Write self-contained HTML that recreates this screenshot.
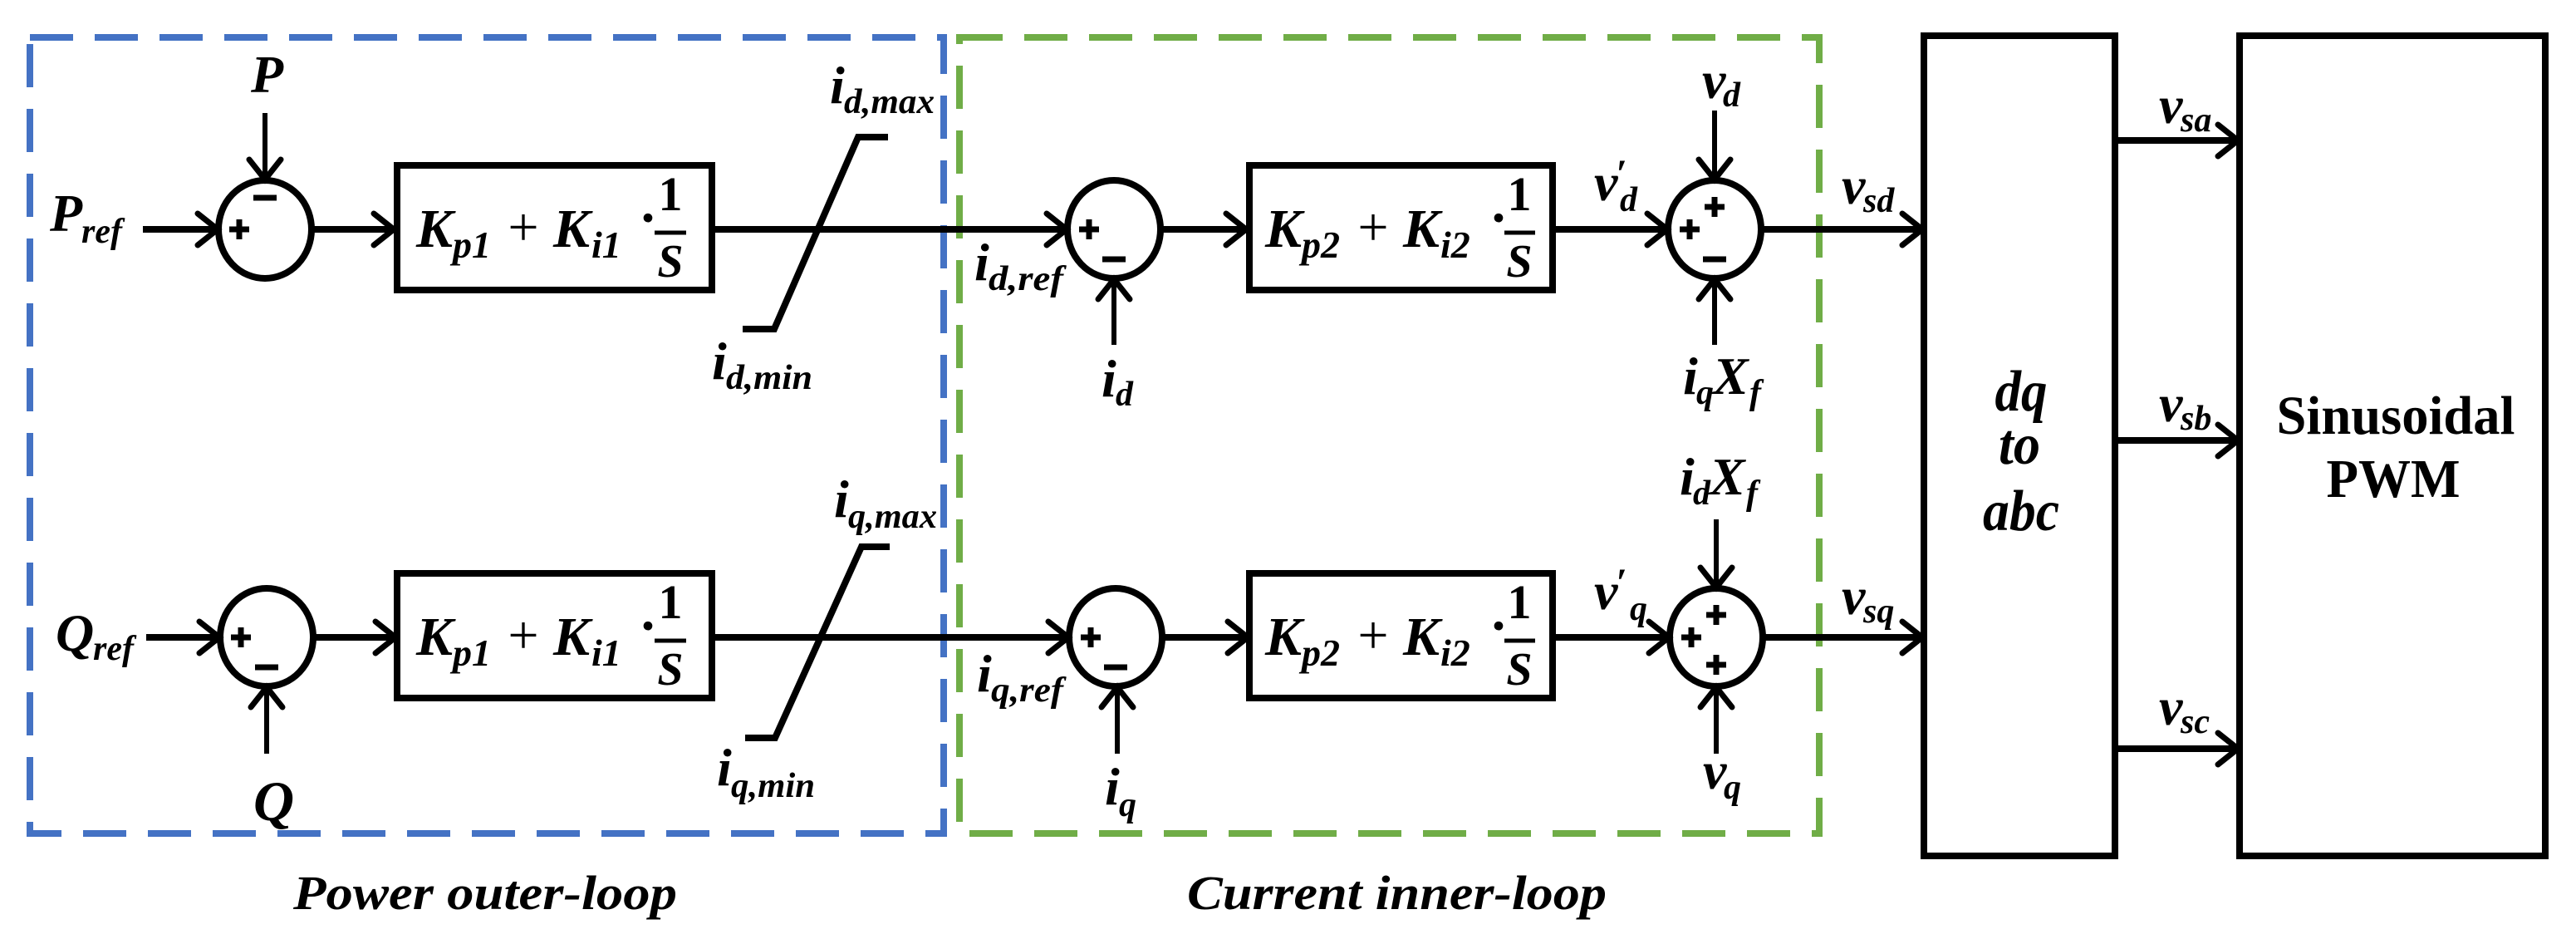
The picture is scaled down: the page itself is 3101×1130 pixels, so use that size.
<!DOCTYPE html>
<html><head><meta charset="utf-8"><style>html,body{margin:0;padding:0;background:#fff}svg{display:block}
text{font-family:"Liberation Serif","DejaVu Serif",serif !important;font-weight:bold;font-style:italic}
text.n{font-style:normal}
text.r{font-style:normal;font-weight:normal}
</style></head>
<body>
<svg xmlns="http://www.w3.org/2000/svg" width="3101" height="1130" viewBox="0 0 3101 1130" font-family="Liberation Serif, DejaVu Serif, serif" style="font-family:'Liberation Serif','DejaVu Serif',serif">
<defs>
<g id="ar"><polyline points="-24,-19 0,0 -24,19" fill="none" stroke="#000" stroke-width="7" stroke-linecap="round" stroke-linejoin="miter"/></g>
</defs>
<rect x="36" y="45" width="1100" height="958" fill="none" stroke="#4472C4" stroke-width="8" stroke-dasharray="52 26"/>
<rect x="1155" y="45" width="1035" height="958" fill="none" stroke="#70AD47" stroke-width="8" stroke-dasharray="52 26"/>

<g stroke="#000" stroke-width="8" fill="none">
<ellipse cx="319" cy="276" rx="56" ry="59"/>
<ellipse cx="1341" cy="276" rx="56" ry="59"/>
<ellipse cx="2064" cy="276" rx="56" ry="59"/>
<rect x="478" y="199" width="379" height="150"/>
<rect x="1504" y="199" width="365" height="150"/>
<line x1="172" y1="276" x2="262" y2="276"/>
<line x1="375" y1="276" x2="474" y2="276"/>
<line x1="859" y1="276" x2="1284" y2="276"/>
<line x1="1397" y1="276" x2="1500" y2="276"/>
<line x1="1871" y1="276" x2="2007" y2="276"/>
<line x1="2120" y1="276" x2="2314" y2="276"/>
<polyline points="894,396 932,396 1033,165 1069,165"/>
<line x1="319" y1="136" x2="319" y2="216" stroke-width="6"/>
<line x1="1341" y1="415" x2="1341" y2="336" stroke-width="6"/>
<line x1="2064" y1="133" x2="2064" y2="216" stroke-width="6"/>
<line x1="2064" y1="415" x2="2064" y2="336" stroke-width="6"/>
<ellipse cx="321" cy="767" rx="56" ry="59"/>
<ellipse cx="1343" cy="767" rx="56" ry="59"/>
<ellipse cx="2066" cy="767" rx="56" ry="59"/>
<rect x="478" y="690" width="379" height="150"/>
<rect x="1504" y="690" width="365" height="150"/>
<line x1="176" y1="767" x2="264" y2="767"/>
<line x1="377" y1="767" x2="476" y2="767"/>
<line x1="859" y1="767" x2="1286" y2="767"/>
<line x1="1399" y1="767" x2="1502" y2="767"/>
<line x1="1871" y1="767" x2="2009" y2="767"/>
<line x1="2122" y1="767" x2="2314" y2="767"/>
<polyline points="897,888 933,888 1037,658 1071,658"/>
<line x1="321" y1="907" x2="321" y2="827" stroke-width="6"/>
<line x1="1345" y1="907" x2="1345" y2="827" stroke-width="6"/>
<line x1="2066" y1="625" x2="2066" y2="707" stroke-width="6"/>
<line x1="2066" y1="907" x2="2066" y2="827" stroke-width="6"/>
<rect x="2316" y="43" width="230" height="987"/>
<rect x="2696" y="43" width="368" height="987"/>
<line x1="2546" y1="169" x2="2694" y2="169"/>
<line x1="2546" y1="530" x2="2694" y2="530"/>
<line x1="2546" y1="901" x2="2694" y2="901"/>
</g>
<use href="#ar" transform="translate(262,276)"/>
<use href="#ar" transform="translate(474,276)"/>
<use href="#ar" transform="translate(1284,276)"/>
<use href="#ar" transform="translate(1500,276)"/>
<use href="#ar" transform="translate(2007,276)"/>
<use href="#ar" transform="translate(2314,276)"/>
<use href="#ar" transform="translate(319,216) rotate(90)"/>
<use href="#ar" transform="translate(1341,336) rotate(-90)"/>
<use href="#ar" transform="translate(2064,216) rotate(90)"/>
<use href="#ar" transform="translate(2064,336) rotate(-90)"/>
<use href="#ar" transform="translate(264,767)"/>
<use href="#ar" transform="translate(476,767)"/>
<use href="#ar" transform="translate(1286,767)"/>
<use href="#ar" transform="translate(1502,767)"/>
<use href="#ar" transform="translate(2009,767)"/>
<use href="#ar" transform="translate(2314,767)"/>
<use href="#ar" transform="translate(321,827) rotate(-90)"/>
<use href="#ar" transform="translate(1345,827) rotate(-90)"/>
<use href="#ar" transform="translate(2066,707) rotate(90)"/>
<use href="#ar" transform="translate(2066,827) rotate(-90)"/>
<use href="#ar" transform="translate(2694,169)"/>
<use href="#ar" transform="translate(2694,530)"/>
<use href="#ar" transform="translate(2694,901)"/>

<g stroke="#000" stroke-width="7">
<path d="M276 276h24M288 264v24"/><path d="M305 238h28"/>
<path d="M1299 276h24M1311 264v24"/><path d="M1327 312h28"/>
<path d="M2052 249h24M2064 237v24"/><path d="M2022 276h24M2034 264v24"/><path d="M2050 312h28"/>
<path d="M278 767h24M290 755v24"/><path d="M307 803h28"/>
<path d="M1301 767h24M1313 755v24"/><path d="M1329 803h28"/>
<path d="M2054 740h24M2066 728v24"/><path d="M2024 767h24M2036 755v24"/><path d="M2054 800h24M2066 788v24"/>
</g>

<g font-size="66">
<text x="501" y="297">K</text><text x="545" y="310" font-size="46">p1</text>
<text x="630" y="295" class="r" text-anchor="middle">+</text>
<text x="666" y="297">K</text><text x="712" y="310" font-size="46">i1</text>
<text x="769" y="284" class="n">·</text>
<text x="807" y="253" class="n" text-anchor="middle" font-size="58">1</text>
<text x="807" y="333" text-anchor="middle" font-size="56">S</text>
<text x="501" y="788">K</text><text x="545" y="801" font-size="46">p1</text>
<text x="630" y="786" class="r" text-anchor="middle">+</text>
<text x="666" y="788">K</text><text x="712" y="801" font-size="46">i1</text>
<text x="769" y="775" class="n">·</text>
<text x="807" y="744" class="n" text-anchor="middle" font-size="58">1</text>
<text x="807" y="824" text-anchor="middle" font-size="56">S</text>
<text x="1523" y="297">K</text><text x="1567" y="310" font-size="46">p2</text>
<text x="1653" y="295" class="r" text-anchor="middle">+</text>
<text x="1689" y="297">K</text><text x="1734" y="310" font-size="46">i2</text>
<text x="1793" y="284" class="n">·</text>
<text x="1829" y="253" class="n" text-anchor="middle" font-size="58">1</text>
<text x="1829" y="333" text-anchor="middle" font-size="56">S</text>
<text x="1523" y="788">K</text><text x="1567" y="801" font-size="46">p2</text>
<text x="1653" y="786" class="r" text-anchor="middle">+</text>
<text x="1689" y="788">K</text><text x="1734" y="801" font-size="46">i2</text>
<text x="1793" y="775" class="n">·</text>
<text x="1829" y="744" class="n" text-anchor="middle" font-size="58">1</text>
<text x="1829" y="824" text-anchor="middle" font-size="56">S</text>
</g>
<g stroke="#000" stroke-width="5">
<line x1="788" y1="280" x2="826" y2="280"/><line x1="788" y1="771" x2="826" y2="771"/>
<line x1="1811" y1="280" x2="1848" y2="280"/><line x1="1811" y1="771" x2="1848" y2="771"/>
</g>

<g font-size="64">
<text x="60" y="278">P</text><text x="98" y="292" font-size="42">ref</text>
<text x="302" y="111">P</text>
<text x="999" y="124">i</text><text x="1016" y="136" font-size="42" textLength="109" lengthAdjust="spacingAndGlyphs">d,max</text>
<text x="857" y="456">i</text><text x="874" y="468" font-size="42" textLength="104" lengthAdjust="spacingAndGlyphs">d,min</text>
<text x="1173" y="337">i</text><text x="1190" y="349" font-size="42" textLength="90" lengthAdjust="spacingAndGlyphs">d,ref</text>
<text x="1326" y="477">i</text><text x="1343" y="488" font-size="42">d</text>
<text x="1919" y="241">v</text><text x="1945" y="225" font-size="48">′</text><text x="1950" y="254" font-size="42">d</text>
<text x="2049" y="118">v</text><text x="2074" y="128" font-size="42">d</text>
<text x="2026" y="474">i</text><text x="2042" y="486" font-size="42">q</text><text x="2062" y="474">X</text><text x="2106" y="486" font-size="42">f</text>
<text x="2217" y="245">v</text><text x="2243" y="255" font-size="42">sd</text>

<text x="67" y="783">Q</text><text x="112" y="794" font-size="42">ref</text>
<text x="305" y="987" font-size="68">Q</text>
<text x="1004" y="622">i</text><text x="1021" y="635" font-size="42" textLength="107" lengthAdjust="spacingAndGlyphs">q,max</text>
<text x="863" y="945">i</text><text x="880" y="959" font-size="42" textLength="101" lengthAdjust="spacingAndGlyphs">q,min</text>
<text x="1176" y="832">i</text><text x="1193" y="844" font-size="42" textLength="87" lengthAdjust="spacingAndGlyphs">q,ref</text>
<text x="1330" y="968">i</text><text x="1347" y="982" font-size="42">q</text>
<text x="1919" y="733">v</text><text x="1945" y="717" font-size="48">′</text><text x="1962" y="746" font-size="42">q</text>
<text x="2022" y="595">i</text><text x="2038" y="607" font-size="42">d</text><text x="2058" y="595">X</text><text x="2102" y="607" font-size="42">f</text>
<text x="2050" y="949">v</text><text x="2075" y="961" font-size="42">q</text>
<text x="2217" y="739">v</text><text x="2243" y="749" font-size="42">sq</text>

<text x="2599" y="148">v</text><text x="2625" y="158" font-size="42">sa</text>
<text x="2599" y="507">v</text><text x="2625" y="517" font-size="42">sb</text>
<text x="2599" y="872">v</text><text x="2625" y="882" font-size="42">sc</text>
</g>
<g font-size="70" text-anchor="middle">
<text x="2433" y="494" textLength="63" lengthAdjust="spacingAndGlyphs">dq</text>
<text x="2431" y="558" textLength="50" lengthAdjust="spacingAndGlyphs">to</text>
<text x="2433" y="638" textLength="92" lengthAdjust="spacingAndGlyphs">abc</text>
</g>
<g font-size="66" text-anchor="middle">
<text class="n" x="2884" y="522" textLength="287" lengthAdjust="spacingAndGlyphs">Sinusoidal</text>
<text class="n" x="2881" y="598" textLength="161" lengthAdjust="spacingAndGlyphs">PWM</text>
</g>
<g font-size="58">
<text x="353" y="1094" textLength="462" lengthAdjust="spacingAndGlyphs">Power outer-loop</text>
<text x="1429" y="1094" textLength="505" lengthAdjust="spacingAndGlyphs">Current inner-loop</text>
</g>
</svg>
</body></html>
